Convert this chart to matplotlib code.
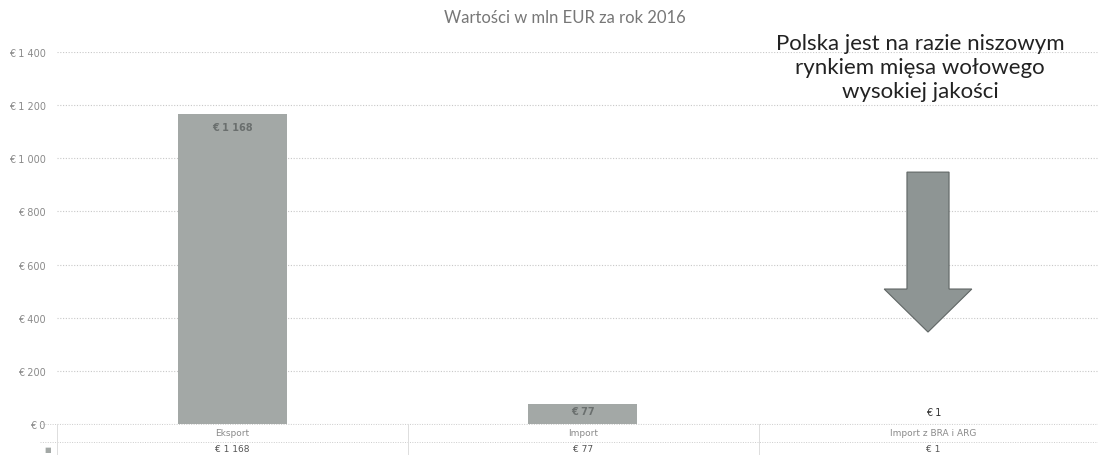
#!/usr/bin/env python3
import matplotlib.pyplot as plt
import matplotlib.transforms as mtransforms
from matplotlib.patches import FancyArrow
import numpy as np

# Data
categories = ["Eksport", "Import", "Import z BRA i ARG"]
values = [1168, 77, 1]
value_labels = ["€ 1 168", "€ 77", "€ 1"]
yticks = [0, 200, 400, 600, 800, 1000, 1200, 1400]
ytick_labels = ["€ 0", "€ 200", "€ 400", "€ 600", "€ 800", "€ 1 000", "€ 1 200", "€ 1 400"]

title = "Wartości w mln EUR za rok 2016"
note = "Polska jest na razie niszowym\nrynkiem mięsa wołowego\nwysokiej jakości"

bar_color = "#a3a8a6"
text_gray = "#8a8a8a"
grid_gray = "#c8c8c8"

W, H = 1098, 456
fig = plt.figure(figsize=(W / 100, H / 100), dpi=100)
ax = fig.add_axes([57 / W, 31 / H, (W - 57) / W, (425 - 53) / H])

x = np.arange(len(categories))
ax.bar(x, values, width=0.31, color=bar_color, zorder=2)

ax.set_xlim(-0.5, 2.47)
ax.set_ylim(0, 1400)
ax.set_yticks(yticks)
ax.set_yticklabels(ytick_labels, fontsize=7, color=text_gray)
ax.tick_params(axis="y", length=0, pad=8)
ax.set_xticks([])
for s in ax.spines.values():
    s.set_visible(False)
ax.grid(axis="y", color=grid_gray, linestyle=(0, (1, 1.5)), linewidth=0.8, zorder=0)

# value labels
for i, (v, lab) in enumerate(zip(values, value_labels)):
    if v > 500:
        ax.text(i, v - 30, lab, ha="center", va="top", fontsize=7,
                color="#6a6f6e", fontweight="bold", zorder=3)
    elif v > 20:
        ax.text(i, v * 0.65, lab, ha="center", va="center", fontsize=7,
                color="#6a6f6e", fontweight="bold", zorder=3)
    else:
        ax.text(i, v + 25, lab, ha="center", va="bottom", fontsize=7,
                color="#333333", zorder=3)

# title and note
fig.text(565 / W, 1 - 18 / H, title, ha="center", va="center",
         fontsize=12, color="#777777", family="Lato")
fig.text(920 / W, 1 - 68 / H, note, ha="center", va="center",
         fontsize=16, color="#222222", family="Lato", linespacing=1.25)

# data table under the plot
trans = mtransforms.blended_transform_factory(ax.transData, fig.transFigure)
ftrans = fig.transFigure
line_kw = dict(color="#cccccc", linewidth=0.7, linestyle=(0, (1, 1.5)),
               clip_on=False, transform=ftrans)
fig.add_artist(plt.Line2D([40 / W, 1], [1 - 425 / H] * 2, **line_kw))
fig.add_artist(plt.Line2D([40 / W, 1], [1 - 443 / H] * 2, **line_kw))
for xb in [57, 408, 759]:
    fig.add_artist(plt.Line2D([xb / W] * 2, [1 - 425 / H, 0], color="#dddddd",
                              linewidth=0.7, transform=ftrans))
for i, (cat, lab) in enumerate(zip(categories, value_labels)):
    ax.text(i, 1 - 434 / H, cat, transform=trans, ha="center", va="center",
            fontsize=6.5, color=text_gray)
    ax.text(i, 1 - 450 / H, lab, transform=trans, ha="center", va="center",
            fontsize=6.5, color="#555555")
fig.text(48 / W, 1 - 450 / H, "■", ha="center", va="center", fontsize=5,
         color=bar_color)

# arrow
ax.add_patch(FancyArrow(1.985, 948, 0, -602, width=0.12, head_width=0.25,
                        head_length=162, length_includes_head=True,
                        facecolor="#8e9594", edgecolor="#5f6564",
                        linewidth=0.8, zorder=3))

fig.savefig("out.png", dpi=100, facecolor="white")
